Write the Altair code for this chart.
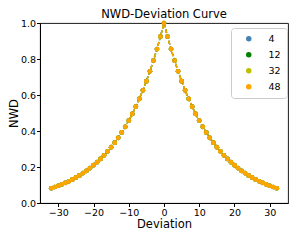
import altair as alt
import pandas as pd

# Deviation values (x) and NWD values (y)
deviation = list(range(-32, 33))
nwd = [
    0.082, 0.089, 0.096, 0.104, 0.112, 0.121, 0.131, 0.142, 0.153, 0.166,
    0.179, 0.194, 0.210, 0.227, 0.245, 0.265, 0.287, 0.310, 0.335, 0.362,
    0.392, 0.423, 0.458, 0.495, 0.535, 0.579, 0.626, 0.677, 0.732, 0.791,
    0.855, 0.925, 1.000, 0.925, 0.855, 0.791, 0.732, 0.677, 0.626, 0.579,
    0.535, 0.495, 0.458, 0.423, 0.392, 0.362, 0.335, 0.310, 0.287, 0.265,
    0.245, 0.227, 0.210, 0.194, 0.179, 0.166, 0.153, 0.142, 0.131, 0.121,
    0.112, 0.104, 0.096, 0.089, 0.082,
]
series_names = ["4", "12", "32", "48"]
series_values = {"4": nwd, "12": nwd, "32": nwd, "48": nwd}
series_colors = ["#4682b4", "#008000", "#bfbf00", "#ffa500"]

rows = []
for order, name in enumerate(series_names):
    for d, v in zip(deviation, series_values[name]):
        rows.append({"Deviation": d, "NWD": v, "size": name, "order": order})
df = pd.DataFrame(rows)

x_enc = alt.X("Deviation:Q", title="Deviation",
              scale=alt.Scale(domain=[-35.2, 35.2], nice=False, zero=False),
              axis=alt.Axis(values=[-30, -20, -10, 0, 10, 20, 30], format="d"))
y_enc = alt.Y("NWD:Q", title="NWD",
              scale=alt.Scale(domain=[0, 1], nice=False),
              axis=alt.Axis(values=[0, 0.2, 0.4, 0.6, 0.8, 1.0], format=".1f"))
color_enc = alt.Color("size:N",
                      scale=alt.Scale(domain=series_names, range=series_colors),
                      legend=alt.Legend(title=None, orient="none", legendX=191, legendY=5,
                                        symbolType="circle", symbolSize=16,
                                        symbolOffset=7, labelOffset=15,
                                        padding=6, rowPadding=5,
                                        fillColor="white", strokeColor="#cccccc",
                                        cornerRadius=3, labelFontSize=9.5,
                                        labelFont="DejaVu Sans", labelColor="black"))

base = alt.Chart(df)
lines = base.mark_line(strokeDash=[4, 2], strokeWidth=1.4).encode(
    x=x_enc, y=y_enc, color=color_enc, detail="size:N", order="Deviation:Q")
points = base.mark_circle(size=22, opacity=1).encode(
    x=x_enc, y=y_enc, color=color_enc, order="order:Q")

chart = alt.layer(lines, points).properties(
    width=248, height=180,
    title=alt.TitleParams("NWD-Deviation Curve", fontSize=11.5, font="DejaVu Sans",
                          fontWeight="normal", color="black", offset=-2, frame="group"),
    autosize=alt.AutoSizeParams(type="none"),
    padding={"left": 32, "top": 15, "right": 3, "bottom": 29},
).configure_view(stroke="black", strokeWidth=0.9).configure_axis(
    grid=False, domainColor="black", tickColor="black", tickSize=3.5,
    labelFont="DejaVu Sans", labelFontSize=9.5, labelColor="black", labelPadding=1,
    titleFont="DejaVu Sans", titleFontSize=11.5, titleFontWeight="normal",
    titleColor="black",
).configure_axisY(titlePadding=1).configure_axisX(titlePadding=1)

chart.save("out.html", embed_options={"renderer": "svg", "actions": False})
